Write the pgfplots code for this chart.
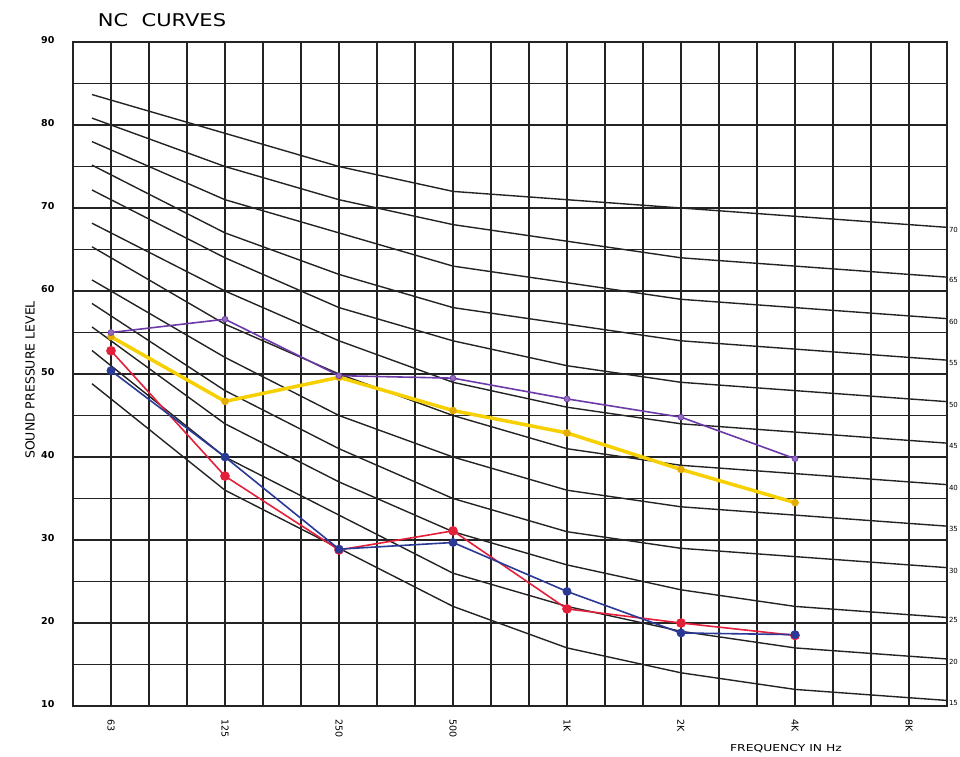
\documentclass[border=0pt]{standalone}
\usepackage{fontspec}
\setmainfont{DejaVu Sans}
\usepackage{pgfplots}
\pgfplotsset{compat=1.18}

\definecolor{gridc}{RGB}{35,35,35}
\definecolor{ncpurple}{RGB}{108,58,168}
\definecolor{ncyellow}{RGB}{246,208,0}
\definecolor{ncgold}{RGB}{228,172,0}
\definecolor{ncred}{RGB}{226,32,58}
\definecolor{ncblue}{RGB}{42,56,150}

\begin{document}
\begin{tikzpicture}[x=1pt,y=1pt]
\begin{axis}[
  at={(0,0)}, anchor=south west,
  scale only axis, width=874pt, height=664pt,
  xmin=-0.3333, xmax=7.3333, ymin=10, ymax=90,
  xtick={0,...,7},
  xticklabels={63,125,250,500,1K,2K,4K,8K},
  minor x tick num=2,
  ytick={10,20,...,90},
  minor y tick num=1,
  grid=both,
  major grid style={gridc, line width=1.2pt},
  minor grid style={gridc, line width=1.2pt},
  axis line style={gridc, line width=1.6pt},
  major tick length=0pt, minor tick length=0pt,
  /pgf/number format/assume math mode=true,
  xticklabel style={rotate=-90, anchor=west, xshift=10pt,
    font=\fontsize{9.5}{11}\selectfont},
  yticklabel style={xshift=-15pt, yshift=2pt,
    font=\bfseries\fontsize{9.5}{11}\selectfont},
  clip=false,
]
% NC reference curves (NC-15 ... NC-70)
\addplot[gridc, line width=1.4pt] coordinates {(-0.1667,48.83) (0,47) (1,36) (2,29) (3,22) (4,17) (5,14) (6,12) (7,11) (7.3333,10.67)};
\addplot[gridc, line width=1.4pt] coordinates {(-0.1667,52.83) (0,51) (1,40) (2,33) (3,26) (4,22) (5,19) (6,17) (7,16) (7.3333,15.67)};
\addplot[gridc, line width=1.4pt] coordinates {(-0.1667,55.67) (0,54) (1,44) (2,37) (3,31) (4,27) (5,24) (6,22) (7,21) (7.3333,20.67)};
\addplot[gridc, line width=1.4pt] coordinates {(-0.1667,58.5) (0,57) (1,48) (2,41) (3,35) (4,31) (5,29) (6,28) (7,27) (7.3333,26.67)};
\addplot[gridc, line width=1.4pt] coordinates {(-0.1667,61.33) (0,60) (1,52) (2,45) (3,40) (4,36) (5,34) (6,33) (7,32) (7.3333,31.67)};
\addplot[gridc, line width=1.4pt] coordinates {(-0.1667,65.33) (0,64) (1,56) (2,50) (3,45) (4,41) (5,39) (6,38) (7,37) (7.3333,36.67)};
\addplot[gridc, line width=1.4pt] coordinates {(-0.1667,68.17) (0,67) (1,60) (2,54) (3,49) (4,46) (5,44) (6,43) (7,42) (7.3333,41.67)};
\addplot[gridc, line width=1.4pt] coordinates {(-0.1667,72.17) (0,71) (1,64) (2,58) (3,54) (4,51) (5,49) (6,48) (7,47) (7.3333,46.67)};
\addplot[gridc, line width=1.4pt] coordinates {(-0.1667,75.17) (0,74) (1,67) (2,62) (3,58) (4,56) (5,54) (6,53) (7,52) (7.3333,51.67)};
\addplot[gridc, line width=1.4pt] coordinates {(-0.1667,78) (0,77) (1,71) (2,67) (3,63) (4,61) (5,59) (6,58) (7,57) (7.3333,56.67)};
\addplot[gridc, line width=1.4pt] coordinates {(-0.1667,80.83) (0,80) (1,75) (2,71) (3,68) (4,66) (5,64) (6,63) (7,62) (7.3333,61.67)};
\addplot[gridc, line width=1.4pt] coordinates {(-0.1667,83.67) (0,83) (1,79) (2,75) (3,72) (4,71) (5,70) (6,69) (7,68) (7.3333,67.67)};

% measured spectra
\addplot[ncyellow, line width=3.5pt, mark=*, mark size=3.5pt,
  mark options={fill=ncgold, draw=ncgold, line width=0.5pt}]
  coordinates {(0,54.5) (1,46.7) (2,49.6) (3,45.6) (4,42.9) (5,38.5) (6,34.5)};
\addplot[ncpurple, line width=1.6pt, mark=*, mark size=3pt,
  mark options={fill=ncpurple!75, line width=0.6pt}]
  coordinates {(0,55) (1,56.6) (2,49.8) (3,49.5) (4,47) (5,44.8) (6,39.8)};
\addplot[ncred, line width=1.6pt, mark=*, mark size=4pt]
  coordinates {(0,52.8) (1,37.7) (2,28.8) (3,31.1) (4,21.7) (5,20.0) (6,18.5)};
\addplot[ncblue, line width=1.6pt, mark=*, mark size=3.6pt]
  coordinates {(0,50.4) (1,40) (2,28.9) (3,29.7) (4,23.8) (5,18.8) (6,18.6)};

% NC numbers at the right-hand ends
\begin{scope}[every node/.style={anchor=west, font=\fontsize{7}{8}\selectfont, inner sep=0.3pt, xshift=1.5pt, yshift=-3pt}]
\node at (axis cs:7.3333,67.67) {70};
\node at (axis cs:7.3333,61.67) {65};
\node at (axis cs:7.3333,56.67) {60};
\node at (axis cs:7.3333,51.67) {55};
\node at (axis cs:7.3333,46.67) {50};
\node at (axis cs:7.3333,41.67) {45};
\node at (axis cs:7.3333,36.67) {40};
\node at (axis cs:7.3333,31.67) {35};
\node at (axis cs:7.3333,26.67) {30};
\node at (axis cs:7.3333,20.67) {25};
\node at (axis cs:7.3333,15.67) {20};
\node at (axis cs:7.3333,10.67) {15};
\end{scope}
\end{axis}

\node[font=\fontsize{17.5}{20}\selectfont, xscale=1.2] at (89pt,686pt) {NC\ \ CURVES};
\node[rotate=90, font=\fontsize{12.5}{14}\selectfont] at (-43pt,326pt) {SOUND PRESSURE LEVEL};
\node[font=\fontsize{9.5}{11}\selectfont, xscale=1.3] at (713pt,-43pt) {FREQUENCY IN Hz};

\pgfresetboundingbox
\path[use as bounding box] (-73pt,-50pt) rectangle (887pt,706pt);
\end{tikzpicture}
\end{document}
